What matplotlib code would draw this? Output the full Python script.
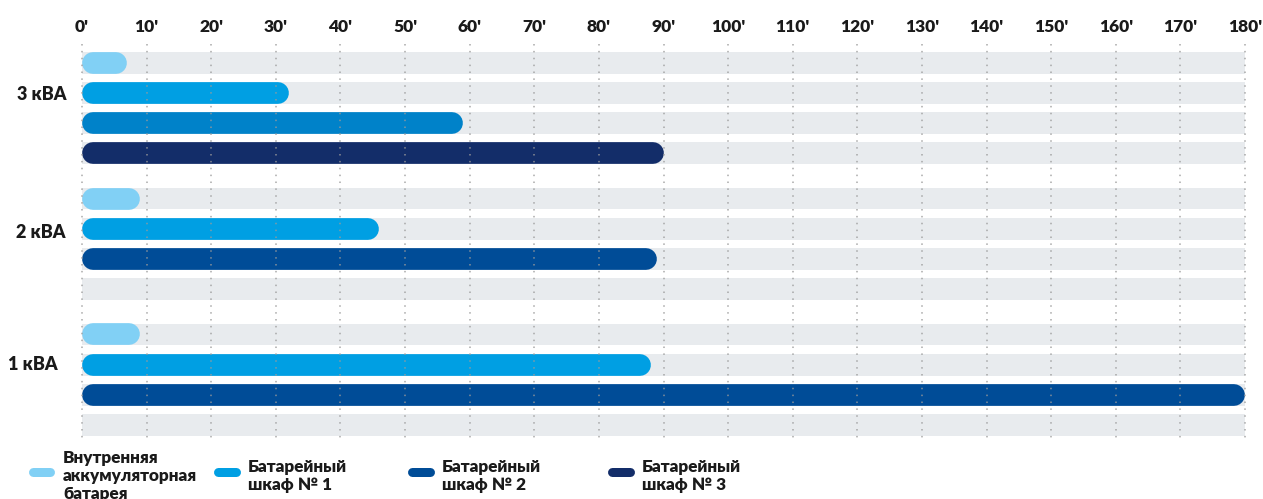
import numpy as np
import matplotlib.pyplot as plt
from matplotlib.lines import Line2D

# подписи групп и серий
groups = ["3 кВА", "2 кВА", "1 кВА"]
series = ["Внутренняя\nаккумуляторная\nбатарея",
          "Батарейный\nшкаф № 1",
          "Батарейный\nшкаф № 2",
          "Батарейный\nшкаф № 3"]

# время автономной работы, минуты (сверху вниз внутри группы)
kva3 = [7, 32, 59, 90]
kva2 = [9, 46, 89]
kva1 = [9, 88, 180]

kva3_colors = ["#81d0f5", "#009fe3", "#0082c9", "#132d69"]
kva2_colors = ["#81d0f5", "#009fe3", "#004c97"]
kva1_colors = ["#81d0f5", "#009fe3", "#004c97"]
legend_colors = ["#81d0f5", "#009fe3", "#004c97", "#132d69"]

ticks = np.arange(0, 181, 10)
tick_labels = [f"{t}'" for t in ticks]

plt.rcParams['font.family'] = ['Lato', 'DejaVu Sans']
plt.rcParams['font.weight'] = 'heavy'

W, H = 1263, 499
fig = plt.figure(figsize=(W / 100, H / 100), dpi=100)
ax = fig.add_axes([82 / W, 1 - 442 / H, (1245 - 82) / W, (442 - 44) / H])

y_top, y_bot = -0.62, 12.56
ax.set_xlim(0, 180)
ax.set_ylim(y_bot, y_top)
for s in ax.spines.values():
    s.set_visible(False)

bar_h = 0.72
px_x = (1245 - 82) / 180
px_slot = (442 - 44) / (y_bot - y_top)
lw_pt = bar_h * px_slot * 0.72
cap = bar_h * px_slot / 2 / px_x

data = [kva3, kva2, kva1]
colors = [kva3_colors, kva2_colors, kva1_colors]
# положение подписей групп (пиксели слева, сдвиг по строкам)
label_x = [17, 16, 8]
label_dy = [1.05, 1.13, 1.0]

for g, (vals, cols) in enumerate(zip(data, colors)):
    # серые подложки на 4 строки
    rows = g * 4.5 + np.arange(4)
    ax.barh(rows, 180, height=bar_h, color="#e8ebee", zorder=1)
    for r, (v, c) in enumerate(zip(vals, cols)):
        y = g * 4.5 + r
        ax.plot([cap, v - cap], [y, y], lw=lw_pt, color=c,
                solid_capstyle="round", zorder=2)
    ax.text((label_x[g] - 82) / px_x, g * 4.5 + label_dy[g], groups[g],
            ha="left", va="center", fontsize=13, color="#1a1a1a")

# пунктирная сетка поверх столбцов
ax.vlines(ticks, y_top, y_bot, colors="#9a9a9a", linestyles=(0, (1, 3.5)),
          lw=1.1, zorder=3, clip_on=False, alpha=0.85)

ax.xaxis.tick_top()
ax.set_xticks(ticks)
ax.set_xticklabels(tick_labels, fontsize=12.5, color="#1a1a1a")
ax.set_yticks([])
ax.tick_params(axis="x", length=0, pad=6.5)

# легенда вручную
leg_x = [28, 213, 407, 607]
for x0, c, name in zip(leg_x, legend_colors, series):
    fig.add_artist(Line2D([(x0 + 4.5) / W, (x0 + 22.5) / W],
                          [1 - 471.5 / H, 1 - 471.5 / H],
                          lw=9 * 0.72, color=c, solid_capstyle="round",
                          transform=fig.transFigure))
    fig.text((x0 + 35) / W, 1 - 476 / H, name, ha="left", va="center",
             fontsize=12.3, linespacing=1.12, color="#1a1a1a")

fig.savefig("out.png", dpi=100)
